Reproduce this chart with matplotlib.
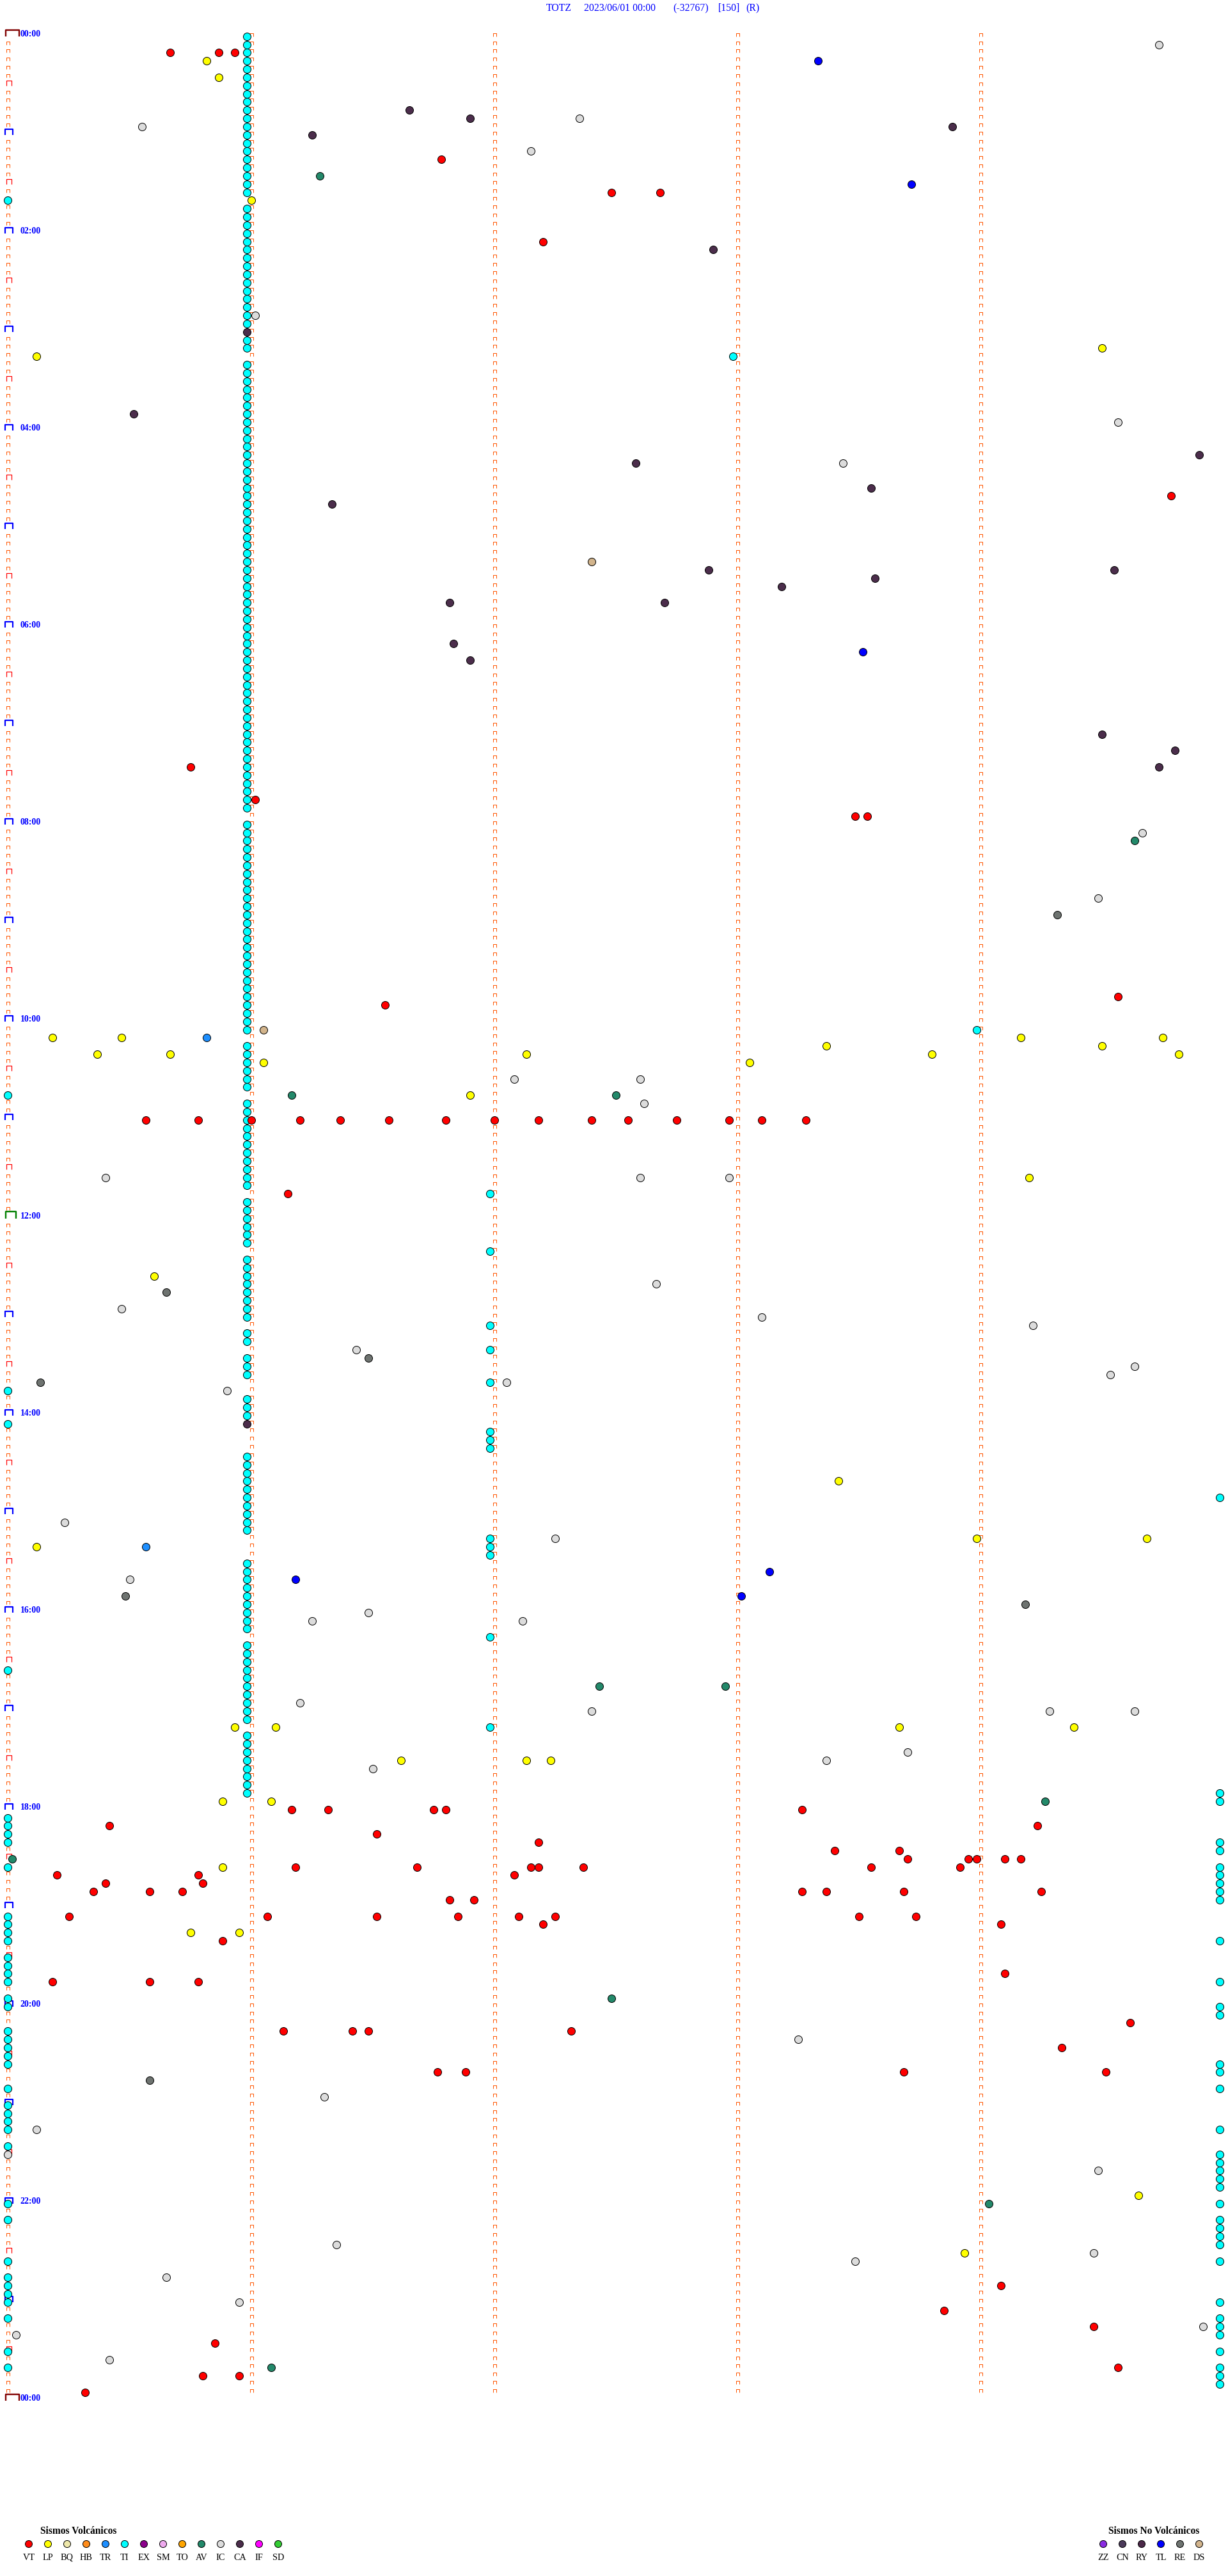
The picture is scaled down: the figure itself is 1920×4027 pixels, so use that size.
from matplotlib import pyplot as plt
from matplotlib.path import Path
import numpy as np

# ---- event times (HH:MM:SS) ----
vt_times = [
    "00:10:40", "00:10:52", "00:10:56", "01:16:47", "01:37:29", "01:37:41", "02:07:12",
    "04:44:47", "07:25:45", "07:46:01", "07:58:29", "07:58:32", "09:49:34", "09:51:33",
    "11:00:34", "11:00:47", "11:01:00", "11:01:12", "11:01:22", "11:01:34", "11:01:48",
    "11:02:00", "11:02:11", "11:02:24", "11:02:33", "11:02:45", "11:02:58", "11:03:06",
    "11:03:17", "11:46:09",
    "18:01:10", "18:01:19", "18:01:45", "18:01:48", "18:03:16", "18:10:25", "18:14:14",
    "18:16:31", "18:22:11", "18:28:24", "18:28:40", "18:33:42", "18:33:57", "18:33:59",
    "18:34:06", "18:34:10", "18:36:11", "18:36:41", "18:37:09", "18:37:11", "18:37:22",
    "18:38:33", "18:38:55", "18:40:12", "18:40:47", "18:42:05", "18:45:24", "18:45:48",
    "18:50:21", "18:50:35", "18:50:43", "18:53:16", "18:53:22", "18:53:41", "18:54:15",
    "18:56:49", "18:56:55", "19:05:15", "19:06:04", "19:06:31", "19:06:51", "19:07:06",
    "19:07:15", "19:08:30", "19:08:44", "19:12:12", "19:14:05", "19:20:53", "19:44:06",
    "19:45:11", "19:45:35", "19:45:47", "20:14:37", "20:16:08", "20:16:25", "20:16:29",
    "20:17:19", "20:29:20", "20:41:46", "20:41:53", "20:43:41", "20:44:31", "22:54:05",
    "23:08:51", "23:19:28", "23:25:51", "23:44:34", "23:45:48", "23:45:57", "23:55:19",
]
lp_times = [
    "00:15:49", "00:25:52", "01:41:00", "03:14:30", "03:15:07", "10:10:11", "10:10:28",
    "10:14:10", "10:14:45", "10:18:22", "10:19:30", "10:20:22", "10:20:40", "10:22:08",
    "10:23:48", "10:24:49", "10:26:03", "10:28:03", "10:46:54", "11:39:12", "12:35:36",
    "14:43:25", "15:18:59", "15:19:41", "15:20:07", "17:10:56", "17:11:06", "17:13:40",
    "17:14:23", "17:31:37", "17:32:08", "17:32:14", "17:55:53", "17:56:05", "18:35:53",
    "19:15:45", "19:15:57", "21:59:39", "22:33:56",
]
tr_times = ["10:10:49", "15:20:34"]
ti_times = [
    "00:00:59", "00:05:59", "00:10:59", "00:15:59", "00:20:59", "00:25:59", "00:30:59",
    "00:35:59", "00:40:59", "00:45:59", "00:50:59", "00:55:59",
    "01:00:59", "01:05:59", "01:10:59", "01:15:59", "01:20:59", "01:25:59", "01:30:59",
    "01:35:59", "01:45:59", "01:50:59", "01:55:59",
    "02:00:59", "02:05:59", "02:10:59", "02:15:59", "02:20:59", "02:25:59", "02:30:59",
    "02:35:59", "02:40:59", "02:45:59", "02:50:59", "02:55:59",
    "03:05:59", "03:10:59", "03:20:59", "03:25:59", "03:30:59", "03:35:59", "03:40:59",
    "03:45:59", "03:50:59", "03:55:59",
    "04:00:59", "04:05:59", "04:10:59", "04:15:59", "04:20:59", "04:25:59", "04:30:59",
    "04:35:59", "04:40:59", "04:45:59", "04:50:59", "04:55:59",
    "05:00:59", "05:05:59", "05:10:59", "05:15:59", "05:20:59", "05:25:59", "05:30:59",
    "05:35:59", "05:40:59", "05:45:59", "05:50:59", "05:55:59",
    "06:00:59", "06:05:59", "06:10:59", "06:15:59", "06:20:59", "06:25:59", "06:30:59",
    "06:35:59", "06:40:59", "06:45:59", "06:50:59", "06:55:59",
    "07:00:59", "07:05:59", "07:10:59", "07:15:59", "07:20:59", "07:25:59", "07:30:59",
    "07:35:59", "07:40:59", "07:45:59", "07:50:59",
    "08:00:59", "08:05:59", "08:10:59", "08:15:59", "08:20:59", "08:25:59", "08:30:59",
    "08:35:59", "08:40:59", "08:45:59", "08:50:59", "08:55:59",
    "09:00:59", "09:05:59", "09:10:59", "09:15:59", "09:20:59", "09:25:59", "09:30:59",
    "09:35:59", "09:40:59", "09:45:59", "09:50:59", "09:55:59",
    "10:00:59", "10:05:59", "10:15:59", "10:20:59", "10:25:59", "10:30:59", "10:35:59",
    "10:40:59", "10:50:59", "10:55:59",
    "11:00:59", "11:05:59", "11:10:59", "11:15:59", "11:20:59", "11:25:59", "11:30:59",
    "11:35:59", "11:40:59", "11:50:59", "11:55:59",
    "12:00:59", "12:05:59", "12:10:59", "12:15:59", "12:25:59", "12:30:59", "12:35:59",
    "12:40:59", "12:45:59", "12:50:59", "12:55:59",
    "13:00:59", "13:10:59", "13:15:59", "13:25:59", "13:30:59", "13:35:59", "13:50:59",
    "13:55:59",
    "14:00:59", "14:25:59", "14:30:59", "14:35:59", "14:40:59", "14:45:59", "14:50:59",
    "14:55:59",
    "15:00:59", "15:05:59", "15:10:59", "15:30:59", "15:35:59", "15:40:59", "15:45:59",
    "15:50:59", "15:55:59",
    "16:00:59", "16:05:59", "16:10:59", "16:20:59", "16:25:59", "16:30:59", "16:35:59",
    "16:40:59", "16:45:59", "16:50:59", "16:55:59",
    "17:00:59", "17:05:59", "17:15:59", "17:20:59", "17:25:59", "17:30:59", "17:35:59",
    "17:40:59", "17:45:59", "17:50:59",
    # second-minute column
    "11:46:59", "12:21:59", "13:06:59", "13:21:59", "13:41:59", "14:11:59", "14:16:59",
    "14:21:59", "15:16:59", "15:21:59", "15:26:59", "16:16:59", "17:11:59",
    "03:17:59", "10:08:59",
    # start of slot
    "01:40:00", "10:45:00", "13:45:00", "14:05:00", "16:35:00", "18:05:00", "18:10:00",
    "18:15:00", "18:20:00", "18:35:00", "19:05:00", "19:10:00", "19:15:00", "19:20:00",
    "19:30:00", "19:35:00", "19:40:00", "19:45:00", "19:55:00", "20:00:00", "20:15:00",
    "20:20:00", "20:25:00", "20:30:00", "20:35:00", "20:50:00", "21:00:00", "21:05:00",
    "21:10:00", "21:15:00", "21:25:00", "22:00:00", "22:10:00", "22:35:00", "22:45:00",
    "22:50:00", "22:55:00", "23:00:00", "23:10:00", "23:30:00", "23:40:00",
    # end of slot
    "14:54:59", "17:54:59", "17:59:59", "18:24:59", "18:29:59", "18:39:59", "18:44:59",
    "18:49:59", "18:54:59", "18:59:59", "19:24:59", "19:49:59", "20:04:59", "20:09:59",
    "20:39:59", "20:44:59", "20:54:59", "21:19:59", "21:34:59", "21:39:59", "21:44:59",
    "21:49:59", "21:54:59", "22:04:59", "22:14:59", "22:19:59", "22:24:59", "22:29:59",
    "22:39:59", "23:04:59", "23:14:59", "23:19:59", "23:24:59", "23:34:59", "23:44:59",
    "23:49:59", "23:54:59",
]
av_times = ["01:26:17", "08:14:38", "10:46:10", "10:47:30", "16:47:26", "16:47:57",
            "17:59:16", "18:30:01", "19:57:29", "22:04:02", "23:41:05"]
ic_times = [
    "00:09:44", "00:52:21", "00:55:33", "01:12:09", "02:51:01", "03:59:34", "04:23:26",
    "08:09:40", "08:49:29", "10:37:05", "10:37:36", "10:52:37", "11:35:24", "11:37:36",
    "11:37:58", "12:42:40", "12:55:28", "13:03:06", "13:09:13", "13:21:26", "13:34:38",
    "13:39:32", "13:42:03", "13:45:54", "15:05:14", "15:17:15", "15:40:30", "16:01:29",
    "16:06:15", "16:07:07", "16:56:12", "17:02:24", "17:04:17", "17:04:38", "17:28:42",
    "17:33:22", "17:36:30", "20:23:15", "20:56:18", "21:15:07", "21:30:00", "21:44:29",
    "22:26:21", "22:34:28", "22:38:29", "22:45:39", "23:00:57", "23:19:55", "23:20:02",
    "23:35:25",
]
ca_times = [
    "00:46:39", "00:51:54", "00:58:53", "01:01:15", "02:12:54", "03:00:59", "03:50:31",
    "04:19:54", "04:22:35", "04:38:33", "04:46:20", "05:27:53", "05:29:33", "05:33:34",
    "05:38:11", "05:46:49", "05:47:42", "06:11:50", "06:21:54", "07:09:30", "07:19:48",
    "07:29:44", "14:05:59",
]
tl_times = ["00:18:20", "01:33:43", "06:18:31", "15:38:08", "15:41:11", "15:53:01"]
re_times = ["08:59:19", "12:45:39", "13:26:29", "13:40:08", "15:50:29", "15:59:11", "20:45:35"]
ds_times = ["05:22:24", "10:06:03"]

# legend
volc_codes = ["VT", "LP", "BQ", "HB", "TR", "TI", "EX", "SM", "TO", "AV", "IC", "CA", "IF", "SD"]
volc_colors = ["#FF0000", "#FFFF00", "#EEE8AA", "#FF8C1A", "#1E8FFF", "#00FFFF", "#8B008B",
               "#EEAAEE", "#FFA500", "#23896A", "#DCDCDC", "#4B2D4B", "#FF00FF", "#33CC33"]
novolc_codes = ["ZZ", "CN", "RY", "TL", "RE", "DS"]
novolc_colors = ["#8A2BE2", "#4B3A5A", "#4B2848", "#0000FF", "#6E7370", "#D2B48C"]
color_of = dict(zip(volc_codes + novolc_codes, volc_colors + novolc_colors))

title_parts = ["TOTZ", "2023/06/01 00:00", "(-32767)", "[150]", "(R)"]

SLOT = 300          # seconds per row
N_ROWS = 288

# ---- layout (pixels) ----
W, H = 1920, 4027
PX_SEC = 380.1 / 60.0
ROW_PX = 3696 / 288.0
X_ORG, Y_ORG = 12.5, 56.7
PT = 0.72  # points per pixel at dpi 100


def to_sec(t):
    h, m, s = (int(v) for v in t.split(':'))
    return h * 3600 + m * 60 + s


def place(times):
    t = np.array([to_sec(v) for v in times])
    row = t // SLOT
    return t - row * SLOT, row


def bracket(left, right, h):
    v = np.array([[left, 0], [left, h], [right, h], [right, 0]], dtype=float) * PT
    path = Path(v, [Path.MOVETO, Path.LINETO, Path.LINETO, Path.LINETO])
    return path, 2 * np.abs(v).max()


fig = plt.figure(figsize=(W / 100, H / 100), dpi=100)
ax = fig.add_axes([0, 0, 1, 1])
ax.set_xlim(-X_ORG / PX_SEC, (W - X_ORG) / PX_SEC)
ax.set_ylim((H - Y_ORG) / ROW_PX, -Y_ORG / ROW_PX)
ax.axis('off')

# minute tick brackets on every row
rows = np.arange(N_ROWS)
small, ms_small = bracket(-2.3, 2.7, 5)
for minute in range(1, 5):
    ax.plot(np.full(N_ROWS, minute * 60), rows, ls='none', marker=small, ms=ms_small,
            mec='#FF5500', mfc='none', mew=1 * PT)

styles = {
    'tick': (bracket(-2.3, 2.7, 5), '#FF5500', 1.0),
    'half': (bracket(-2.5, 6.2, 8), '#FF0000', 1.2),
    'hour': (bracket(-3.5, 8.2, 9), '#0000FF', 2.2),
    'noon': (bracket(-3.5, 13.2, 11), '#008000', 2.4),
    'day': (bracket(-3.5, 17.5, 10), '#800000', 2.4),
}
kind = []
for r in range(N_ROWS + 1):
    if r % N_ROWS == 0:
        kind.append('day')
    elif r == N_ROWS // 2:
        kind.append('noon')
    elif r % 12 == 0:
        kind.append('hour')
    elif r % 6 == 0:
        kind.append('half')
    else:
        kind.append('tick')
kind = np.array(kind)
all_rows = np.arange(N_ROWS + 1)
for name, ((path, ms), col, lw) in styles.items():
    sel = all_rows[kind == name]
    ax.plot(np.zeros(len(sel)), sel, ls='none', marker=path, ms=ms, mec=col,
            mfc='none', mew=lw * PT)

# hour labels
for r in range(0, N_ROWS + 1, 24):
    ax.annotate(f"{(r // 12) % 24:02d}:00", xy=(0, r), xytext=(19.2 * PT, 0),
                textcoords='offset points', ha='left', va='baseline', color='#0000FF',
                fontsize=9.9, fontweight='bold', family='Liberation Serif')

# events
events = [("TI", ti_times), ("LP", lp_times), ("VT", vt_times), ("TR", tr_times),
          ("AV", av_times), ("IC", ic_times), ("CA", ca_times), ("TL", tl_times),
          ("RE", re_times), ("DS", ds_times)]
for z, (code, times) in enumerate(events):
    x, y = place(times)
    ax.scatter(x, y, s=(12 * PT) ** 2, c=color_of[code], edgecolors='black',
               linewidths=1 * PT, zorder=3 + z)

# title
title_x = [854, 913, 1052, 1123, 1166]
for part, px in zip(title_parts, title_x):
    fig.text(px / W, 1 - 13 / H, part, ha='left', va='center', color='#0000FF',
             fontsize=11.3, family='Liberation Serif')

# legends (pixel-space overlay)
lax = fig.add_axes([0, 0, 1, 1], facecolor='none')
lax.set_xlim(0, W)
lax.set_ylim(H, 0)
lax.axis('off')


def draw_legend(codes, colors, x0, title, title_x):
    xs = x0 + 30 * np.arange(len(codes))
    lax.scatter(xs, np.full(len(codes), 3977), s=(11 * PT) ** 2, c=colors,
                edgecolors='black', linewidths=1 * PT)
    for xv, code in zip(xs, codes):
        lax.text(xv, 3998, code, ha='center', va='center', fontsize=10.3,
                 family='Liberation Serif', color='black')
    lax.text(title_x, 3957, title, ha='left', va='center', fontsize=11.2,
             fontweight='bold', family='Liberation Serif', color='black')


draw_legend(volc_codes, volc_colors, 45, "Sismos Volcánicos", 63)
draw_legend(novolc_codes, novolc_colors, 1725, "Sismos No Volcánicos", 1733)

fig.savefig('out.png', dpi=100)
